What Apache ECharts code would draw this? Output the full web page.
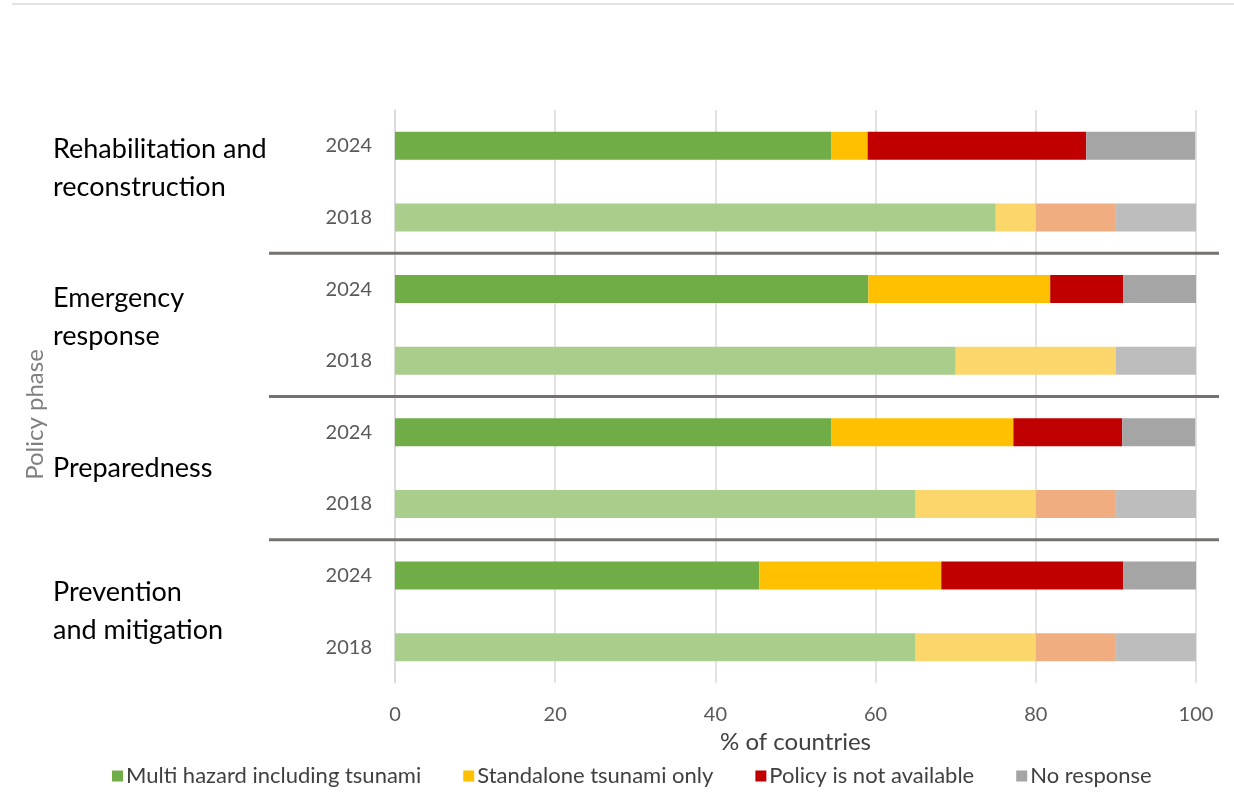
<!DOCTYPE html>
<html>
<head>
<meta charset="utf-8">
<script src="https://cdn.jsdelivr.net/npm/echarts@6/dist/echarts.min.js"></script>
<style>
html,body{margin:0;padding:0;background:#fff;}
#chart{width:1234px;height:811px;}
</style>
</head>
<body>
<div id="chart"></div>
<script>
// ---- data ----
const groups = ['Rehabilitation and\nreconstruction', 'Emergency\nresponse', 'Preparedness', 'Prevention\nand mitigation'];
const years = ['2024', '2018'];
const seriesNames = ['Multi hazard including tsunami', 'Standalone tsunami only', 'Policy is not available', 'No response'];
// rows top→bottom: each group 2024 then 2018
const multiHazard = [54.5, 75, 59.1, 70, 54.5, 65, 45.5, 65];
const standalone  = [4.5, 5, 22.7, 20, 22.7, 15, 22.7, 15];
const notAvailable = [27.3, 10, 9.1, 0, 13.6, 10, 22.7, 10];
const noResponse  = [13.6, 10, 9.1, 10, 9.1, 10, 9.1, 10];
const xTicks = [0, 20, 40, 60, 80, 100];

// ---- styling ----
const darkColors = ['#70AD47', '#FFC000', '#C00000', '#A5A5A5'];
const lightColors = ['#A9CE8B', '#FAD66B', '#F0AE80', '#BDBDBD'];
const FONT = 'Lato, "Open Sans", sans-serif';

const rowKeys = [];
groups.forEach((g, gi) => years.forEach(y => rowKeys.push(gi + '|' + y)));

const allValues = [multiHazard, standalone, notAvailable, noResponse];
const series = allValues.map((vals, si) => ({
  name: seriesNames[si],
  type: 'bar',
  stack: 'total',
  barWidth: 28,
  yAxisIndex: 0,
  itemStyle: { color: darkColors[si] },
  emphasis: { disabled: true },
  data: vals.map((v, i) => ({
    value: v,
    itemStyle: { color: rowKeys[i].split('|')[1] === '2018' ? lightColors[si] : darkColors[si] }
  }))
}));

const chart = echarts.init(document.getElementById('chart'), null, { renderer: 'canvas' });
const option = {
  animation: false,
  backgroundColor: '#fff',
  textStyle: { fontFamily: FONT },
  grid: { left: 395, right: 38, top: 110, bottom: 128, containLabel: false, outerBoundsMode: 'none' },
  legend: {
    data: seriesNames,
    top: 760,
    left: 107,
    itemWidth: 11,
    itemHeight: 11,
    itemGap: 42,
    icon: 'rect',
    textStyle: { fontFamily: FONT, fontSize: 22, color: '#404040', padding: [0, 0, 0, -2] }
  },
  xAxis: {
    type: 'value',
    min: xTicks[0],
    max: xTicks[xTicks.length - 1],
    interval: xTicks[1] - xTicks[0],
    name: '% of countries',
    nameLocation: 'middle',
    nameGap: 46,
    nameTextStyle: { fontFamily: FONT, fontSize: 24, color: '#404040' },
    axisLine: { show: false },
    axisTick: { show: false },
    axisLabel: { fontFamily: FONT, fontSize: 20, color: '#595959', margin: 22 },
    splitLine: { show: true, lineStyle: { color: '#D9D9D9', width: 1.5 } }
  },
  yAxis: [
    {
      type: 'category',
      data: rowKeys,
      inverse: true,
      axisLine: { show: true, lineStyle: { color: '#D9D9D9', width: 1.5 } },
      axisTick: { show: false },
      axisLabel: {
        fontFamily: FONT, fontSize: 20, color: '#595959', margin: 23,
        formatter: v => v.split('|')[1]
      },
      splitLine: { show: false }
    },
    {
      type: 'category',
      data: groups,
      inverse: true,
      position: 'left',
      name: 'Policy phase',
      nameLocation: 'middle',
      nameGap: 348,
      nameRotate: 90,
      nameMoveOverlap: false,
      nameTextStyle: { fontFamily: FONT, fontSize: 24, color: '#7F7F7F', padding: [0, 36, 0, 0] },
      axisLine: { show: false },
      axisTick: { show: false },
      axisLabel: {
        margin: 342,
        fontFamily: FONT, fontSize: 27, color: '#000', align: 'left', lineHeight: 38,
        formatter: (v, i) => i === 0 ? v + '\n{s|}' : (i === 1 ? v + '\n{t|}' : v),
        rich: { s: { fontSize: 1, lineHeight: 26 }, t: { fontSize: 1, lineHeight: 16 } }
      },
      splitLine: { show: false }
    }
  ],
  series: series
};
chart.setOption(option);

// separator lines between groups, positioned through the category axis
function drawSeparators() {
  const els = [{
    type: 'line', shape: { x1: 12, y1: 4, x2: 1234, y2: 4 },
    style: { stroke: '#E3E3E3', lineWidth: 2 }, silent: true
  }];
  for (let gi = 1; gi < groups.length; gi++) {
    const a = chart.convertToPixel({ yAxisIndex: 0 }, rowKeys[gi * 2 - 1]);
    const b = chart.convertToPixel({ yAxisIndex: 0 }, rowKeys[gi * 2]);
    const y = (a + b) / 2;
    els.push({
      type: 'line', shape: { x1: 269, y1: y, x2: 1219, y2: y },
      style: { stroke: '#767171', lineWidth: 3 }, silent: true, z: 10
    });
  }
  chart.setOption({ graphic: els });
}
drawSeparators();
</script>
</body>
</html>
